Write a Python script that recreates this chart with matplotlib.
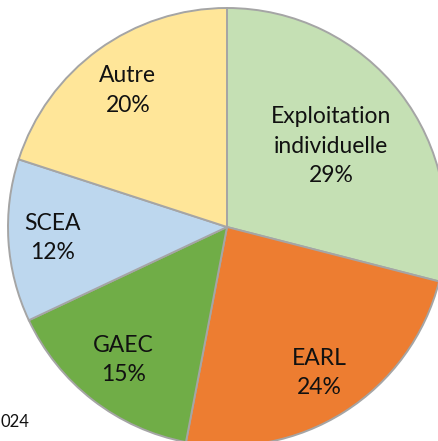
import numpy as np
import matplotlib.pyplot as plt

# parts of farms by legal status
labels = ['Exploitation\nindividuelle', 'EARL', 'GAEC', 'SCEA', 'Autre']
shares = [29, 24, 15, 12, 20]
colors = ['#C5E0B4', '#ED7D31', '#70AD47', '#BDD7EE', '#FFE699']
label_dist = [0.60, 0.79, 0.77, 0.80, 0.77]

plt.rcParams['font.family'] = ['Lato', 'DejaVu Sans']

fig = plt.figure(figsize=(4.39, 4.41), dpi=100)
ax = fig.add_axes([0, 0, 1, 1])
ax.axis('off')

cx, cy, r = 227, 441 - 227, 219
wedges, _ = ax.pie(shares, colors=colors, startangle=90, counterclock=False,
                   center=(cx, cy), radius=r,
                   wedgeprops=dict(edgecolor='#A5A5A5', linewidth=1.4))
ax.set_xlim(0, 439)
ax.set_ylim(0, 441)
ax.set_aspect('equal')

for w, lab, val, d in zip(wedges, labels, shares, label_dist):
    ang = np.deg2rad((w.theta1 + w.theta2) / 2)
    ax.text(cx + d * r * np.cos(ang), cy + d * r * np.sin(ang),
            f'{lab}\n{val}%', ha='center', va='center', fontsize=16.5,
            linespacing=1.5, color='#111111')

# source line, cut by the original crop
fig.text(1 / 439, 1 - 422 / 441, '024', ha='left', va='center',
         fontsize=12, color='#111111')

fig.savefig('out.png', dpi=100)
